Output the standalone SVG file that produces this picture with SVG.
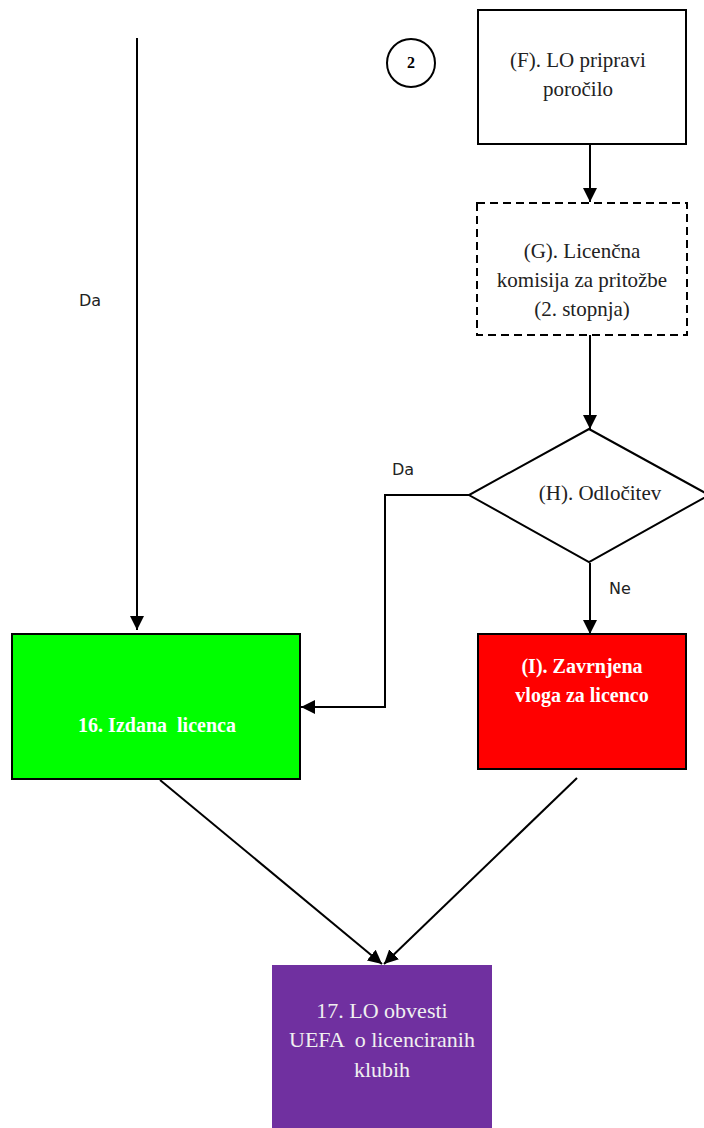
<svg xmlns="http://www.w3.org/2000/svg" width="704" height="1128" viewBox="0 0 704 1128">
<defs>
<marker id="ah" viewBox="0 0 14 14" refX="14" refY="7" markerWidth="14" markerHeight="14" markerUnits="userSpaceOnUse" orient="auto">
<path d="M0,0 L14,7 L0,14 Z" fill="#000"/>
</marker>
</defs>
<style>
.box{stroke:#000;stroke-width:2}
.t{font-family:"Liberation Serif","Times New Roman",serif;font-size:21px;text-anchor:middle;fill:#222}
.tw{font-family:"Liberation Serif","Times New Roman",serif;font-size:20px;text-anchor:middle;fill:#fff;font-weight:bold;white-space:pre}
.tp{font-family:"Liberation Serif","Times New Roman",serif;font-size:22px;text-anchor:middle;fill:#f0f0f0;white-space:pre}
.lbl{font-family:"DejaVu Sans",sans-serif;font-size:16px;fill:#222}
.c{fill:none;stroke:#000;stroke-width:2}
</style>
<rect width="704" height="1128" fill="#fff"/>
<g id="connectors">
<path class="c" d="M137,38 V630" marker-end="url(#ah)"/>
<path class="c" d="M590,144 V202" marker-end="url(#ah)"/>
<path class="c" d="M590,335 V429" marker-end="url(#ah)"/>
<path class="c" d="M469,495 H385 V707 H301" marker-end="url(#ah)"/>
<path class="c" d="M590,563 V634" marker-end="url(#ah)"/>
<path class="c" d="M160,780 L382,964" marker-end="url(#ah)"/>
<path class="c" d="M577,778 L384,964" marker-end="url(#ah)"/>
<text class="lbl" x="79" y="306">Da</text>
<text class="lbl" x="392" y="475">Da</text>
<text class="lbl" x="609" y="594">Ne</text>
</g>
<g id="c2">
<circle cx="411" cy="63" r="24" fill="#fff" stroke="#000" stroke-width="2"/>
<text x="411" y="68" style="font-family:'Liberation Serif',serif;font-size:16px;font-weight:bold;text-anchor:middle">2</text>
</g>
<g id="F">
<rect class="box" x="478" y="10" width="208" height="134" fill="#fff"/>
<text class="t" x="578" y="67">(F). LO pripravi</text>
<text class="t" x="578" y="96">poročilo</text>
</g>
<g id="G">
<rect class="box" x="477" y="203" width="210" height="132" fill="#fff" stroke-dasharray="8,5"/>
<text class="t" x="582" y="258">(G). Licenčna</text>
<text class="t" x="582" y="287">komisija za pritožbe</text>
<text class="t" x="582" y="316">(2. stopnja)</text>
</g>
<g id="H">
<path class="box" d="M589,429 L709,495 L589,562 L469,495 Z" fill="#fff"/>
<text class="t" x="600" y="500">(H). Odločitev</text>
</g>
<g id="N16">
<rect class="box" x="12" y="634" width="288" height="145" fill="#00ff00"/>
<text class="tw" x="157" y="732">16. Izdana  licenca</text>
</g>
<g id="I">
<rect class="box" x="478" y="634" width="208" height="135" fill="#ff0000"/>
<text class="tw" x="582" y="673">(I). Zavrnjena</text>
<text class="tw" x="582" y="702">vloga za licenco</text>
</g>
<g id="N17">
<rect x="272" y="965" width="220" height="170" fill="#7030a0"/>
<text class="tp" x="382" y="1018">17. LO obvesti</text>
<text class="tp" x="382" y="1047">UEFA  o licenciranih</text>
<text class="tp" x="382" y="1077">klubih</text>
</g>
</svg>
